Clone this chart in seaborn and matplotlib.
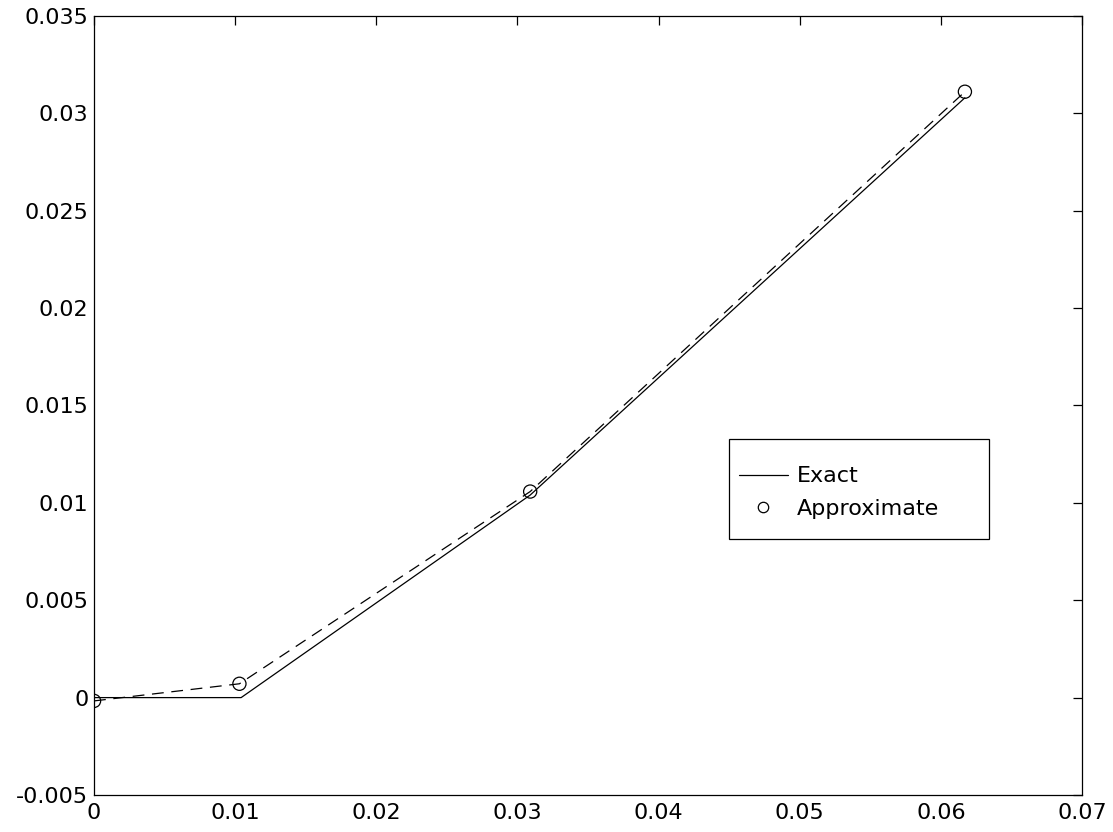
import matplotlib
matplotlib.use("Agg")
import matplotlib.pyplot as plt
from matplotlib.lines import Line2D
from matplotlib.patches import Rectangle
from matplotlib.legend_handler import HandlerLine2D
from matplotlib.ticker import FuncFormatter
import seaborn as sns
import pandas as pd

# Exact solution (piecewise linear)
exact_x = [0.0, 0.01042, 0.0309, 0.0617]
exact_y = [0.0, 0.0, 0.0104, 0.0308]

# Approximate solution at the nodes
approx_x = [0.0, 0.0103, 0.0309, 0.0617]
approx_y = [-0.00017, 0.00071, 0.01058, 0.03111]

x_ticks = [0.0, 0.01, 0.02, 0.03, 0.04, 0.05, 0.06, 0.07]
y_ticks = [-0.005, 0.0, 0.005, 0.01, 0.015, 0.02, 0.025, 0.03, 0.035]
legend_labels = ["Exact", "Approximate"]

sns.set_style("white")
plt.rcParams["font.family"] = ["DejaVu Sans"]
plt.rcParams["text.color"] = "black"
plt.rcParams["lines.scale_dashes"] = False

exact_df = pd.DataFrame({"x": exact_x, "y": exact_y})
approx_df = pd.DataFrame({"x": approx_x, "y": approx_y})

fig = plt.figure(figsize=(11.13, 8.32), dpi=100)
ax = fig.add_axes([0.0845, 0.0445, 0.8877, 0.9363])

sns.lineplot(data=exact_df, x="x", y="y", ax=ax, color="black",
             linewidth=0.9, sort=False, estimator=None)
sns.lineplot(data=approx_df, x="x", y="y", ax=ax, color="black",
             linewidth=0.9, sort=False, estimator=None,
             dashes=False, linestyle=(0, (8.5, 5.5)))
sns.scatterplot(data=approx_df, x="x", y="y", ax=ax, marker="o",
                s=90, facecolor="none", edgecolor="black", linewidth=0.9,
                zorder=3)

ax.set_xlim(0, 0.07)
ax.set_ylim(-0.005, 0.035)
ax.set_xticks(x_ticks)
ax.set_yticks(y_ticks)


def fmt(v, pos):
    v = round(v, 6)
    if v == 0:
        return "0"
    return f"{v:g}"


ax.xaxis.set_major_formatter(FuncFormatter(fmt))
ax.yaxis.set_major_formatter(FuncFormatter(fmt))
ax.set_xlabel("")
ax.set_ylabel("")

ax.tick_params(axis="both", direction="in", length=6.5, width=0.9,
               colors="black", labelsize=16, top=True, right=True)
ax.tick_params(axis="x", pad=6)
ax.tick_params(axis="y", pad=4)
for s in ax.spines.values():
    s.set_visible(True)
    s.set_color("black")
    s.set_linewidth(0.9)


class LeftMarkerHandler(HandlerLine2D):
    """Place the single legend marker near the left end of the handle."""

    def get_xdata(self, legend, xdescent, ydescent, width, height, fontsize):
        xdata, _ = super().get_xdata(legend, xdescent, ydescent,
                                     width, height, fontsize)
        return xdata, [-xdescent + 0.23 * width]


handles = [
    Line2D([], [], color="black", linewidth=0.9),
    Line2D([], [], color="black", linestyle="none", marker="o",
           markerfacecolor="none", markersize=7.5, markeredgewidth=0.9),
]

# legend box outline
ax.add_patch(Rectangle((0.643, 0.329), 0.263, 0.128, transform=ax.transAxes,
                       facecolor="white", edgecolor="black", linewidth=0.9,
                       zorder=4))
leg = ax.legend(handles, legend_labels, loc="center left",
                bbox_to_anchor=(0.6525, 0.388), fontsize=16, frameon=False,
                handlelength=2.2, handletextpad=0.4, borderpad=0,
                labelspacing=0.58, borderaxespad=0,
                handler_map={handles[1]: LeftMarkerHandler()})
for t in leg.get_texts():
    t.set_color("black")
leg.set_zorder(5)

fig.savefig("out.png", dpi=100)
